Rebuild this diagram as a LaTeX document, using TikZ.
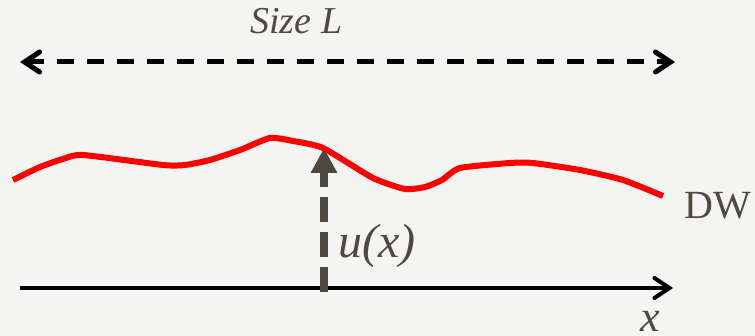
\documentclass[tikz,border=0pt]{standalone}
\usepackage{fontspec}
\setmainfont{Liberation Serif}
\usetikzlibrary{arrows.meta}
\definecolor{paper}{RGB}{244,244,242}
\definecolor{ink}{RGB}{80,73,64}
\tikzset{span/.style={line width=2.5pt, dash pattern=on 8.5pt off 6.5pt,
    {Straight Barb[length=7.5pt,width=10pt,line cap=round]}-{Straight Barb[length=7.5pt,width=10pt,line cap=round]}},
  axis/.style={line width=2pt, -{Straight Barb[length=7.5pt,width=10pt,line cap=round]}},
  disp/.style={draw=ink, line width=4pt, dash pattern=on 12.5pt off 5pt, -{Triangle[length=12.5pt,width=12.5pt]}},
  wall/.style={red, line width=3pt, line join=round},
  lbl/.style={inner sep=0pt, text=ink}}

\begin{document}
\begin{tikzpicture}[x=0.5pt, y=-0.5pt]
  % paper
  \fill[paper] (0,0) rectangle (755,336);
  \useasboundingbox (0,0) rectangle (755,336);
  % system size
  \coordinate (sl0) at (20,62);
  \coordinate (sl1) at (675,62);
  \draw[span] (sl0) -- (sl1);
  \node[lbl, font=\fontsize{19}{22}\selectfont\itshape, anchor=base west] (sizeL) at (250,34) {Size L};
  % domain wall
  \draw[wall] plot[smooth, tension=0.35] coordinates {(13,180) (40,167) (63,159) (83,155) (163,165) (185,165)
    (210,160) (240,150) (270,138) (293,141) (323,148) (373,178) (405,189) (425,187) (442,180)
    (460,168) (510,163) (533,163) (580,170) (623,180) (663,196)};
  \node[lbl, font=\fontsize{20}{24}\selectfont, anchor=base west] (dw) at (684,219) {DW};
  % x axis
  \coordinate (ax0) at (20,288);
  \coordinate (ax1) at (673,288);
  \draw[axis] (ax0) -- (ax1);
  \node[lbl, font=\fontsize{22}{26}\selectfont\itshape, anchor=base] (xlabel) at (650,331) {x};
  % displacement
  \coordinate (u0) at (324,292);
  \coordinate (u1) at (324,148);
  \draw[disp] (u0) -- (u1);
  \node[lbl, font=\fontsize{24}{28}\selectfont\itshape, anchor=base west] (ulabel) at (338,258) {u(x)};
\end{tikzpicture}
\end{document}
